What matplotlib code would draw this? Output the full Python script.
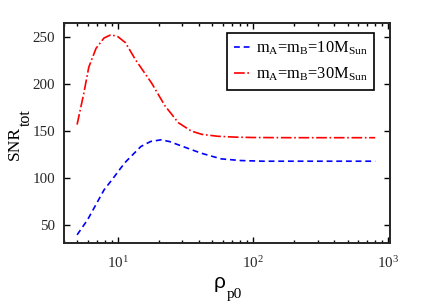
import matplotlib
matplotlib.use("Agg")
import matplotlib.pyplot as plt
from matplotlib.ticker import LogLocator, NullFormatter

plt.rcParams["mathtext.fontset"] = "custom"
plt.rcParams["mathtext.rm"] = "Liberation Serif"
plt.rcParams["mathtext.it"] = "Liberation Serif:italic"

# values
rho_30 = [5, 5.6, 6.1, 6.9, 7.9, 8.9, 10, 11.4, 13.5, 17.8, 22.3, 28, 35, 42, 55, 74, 100, 200, 400, 800]
snr_30 = [157, 190, 218, 238, 249, 252.5, 250.5, 244, 226, 201, 177, 159, 150, 146.5, 144.5, 143.6, 143.2, 143, 143, 143]

rho_10 = [5, 5.97, 7.92, 9.14, 10.5, 11.5, 14.8, 17.5, 20.8, 24, 29.3, 41.2, 58, 81, 120, 200, 400, 800]
snr_10 = [39.7, 55.6, 87.6, 99, 110.6, 117.7, 133.6, 139, 140.7, 139, 134.4, 126.6, 120.5, 118.7, 118, 118, 118, 118]

labels = [r"m$_{\rm A}$=m$_{\rm B}$=10M$_{\rm Sun}\quad$",
          r"m$_{\rm A}$=m$_{\rm B}$=30M$_{\rm Sun}\quad$"]
yticks = [50, 100, 150, 200, 250]

W, H = 431, 305
fig = plt.figure(figsize=(W / 100, H / 100), dpi=100)
ax = fig.add_axes([64 / W, 1 - 243 / H, 326 / W, 220 / H])

ax.plot(rho_10, snr_10, linestyle="--", dashes=(3.5, 2.3), color="blue", linewidth=1.2, label=labels[0])
ax.plot(rho_30, snr_30, linestyle="-.", color="red", linewidth=1.2, label=labels[1])

ax.set_xscale("log")
ax.set_xlim(4, 1030)
ax.set_ylim(31, 265)
ax.set_yticks(yticks)
ax.xaxis.set_minor_locator(LogLocator(base=10, subs=range(2, 10), numticks=20))
ax.xaxis.set_minor_formatter(NullFormatter())

for lab in ax.get_xticklabels() + ax.get_yticklabels():
    lab.set_fontfamily("Liberation Serif")
    lab.set_fontsize(10.8)
    lab.set_color("#262626")

ax.tick_params(which="both", direction="in", top=True, right=True, width=1.0)
ax.tick_params(which="major", length=4)
ax.tick_params(which="minor", length=2.2)
ax.tick_params(axis="x", which="major", pad=8.5)
ax.tick_params(axis="y", which="major", pad=6.5)
for sp in ax.spines.values():
    sp.set_linewidth(1.4)
    sp.set_color("#262626")

# axis labels, main text and subscript drawn separately
fig.text(18.5 / W, 1 - 160 / H, "SNR", rotation=90, rotation_mode="anchor",
         ha="left", va="baseline", family="Liberation Serif", fontsize=12.5)
fig.text(30 / W, 1 - 126 / H, "tot", rotation=90, rotation_mode="anchor",
         ha="left", va="baseline", family="Liberation Serif", fontsize=11.5)
fig.text(214 / W, 1 - 288 / H, "ρ", ha="left", va="baseline",
         family="Liberation Sans", fontsize=15)
fig.text(227 / W, 1 - 298 / H, "p0", ha="left", va="baseline",
         family="Liberation Serif", fontsize=11)

leg = ax.legend(loc="upper right", prop={"family": "Liberation Serif", "size": 11.8},
                handlelength=1.0, handletextpad=0.35, borderpad=0.4, labelspacing=0.55,
                borderaxespad=0, fancybox=False, framealpha=1, edgecolor="black",
                bbox_to_anchor=(0.952, 0.955))
leg.get_frame().set_linewidth(1.2)

fig.savefig("out.png", dpi=100)
